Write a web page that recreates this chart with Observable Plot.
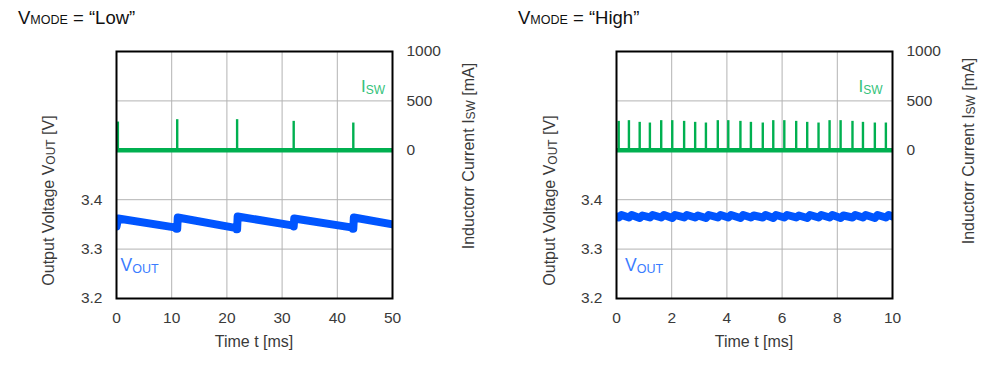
<!DOCTYPE html>
<html>
<head>
<meta charset="utf-8">
<script src="https://cdn.jsdelivr.net/npm/d3@7"></script>
<script src="https://cdn.jsdelivr.net/npm/@observablehq/plot@0.6"></script>
<style>
  html, body { margin: 0; padding: 0; background: #fff; }
  #wrap { position: relative; width: 1000px; height: 366px; overflow: hidden; background: #fff; }
  #wrap svg.panel { position: absolute; top: 0; }
</style>
</head>
<body>
<div id="wrap"></div>
<script>
// ---------- data ----------
// Panel titles
const panelTitles = ["“Low”", "“High”"];

// x ticks (ms)
const lowTimeTicks = [0, 10, 20, 30, 40, 50];
const highTimeTicks = [0, 2, 4, 6, 8, 10];

// left axis ticks (V) and right axis ticks (mA)
const voutTicks = [3.2, 3.3, 3.4];
const iswTicks = [0, 500, 1000];

// VMODE = Low : inductor current spikes (ms, mA)
const lowSpikeT = [0.25, 11.0, 21.85, 32.1, 42.9];
const lowSpikeI = [286, 310, 310, 293, 276];
const lowIswBase = [0];

// VMODE = Low : output voltage (ms, V)
const lowVoutT = [0, 0.3, 10.5, 10.8, 11.0, 11.1, 21.5, 21.7, 21.85, 21.95, 31.8, 32.0, 32.1, 32.2, 42.5, 42.75, 42.9, 43.0, 50];
const lowVoutV = [3.346, 3.362, 3.344, 3.341, 3.341, 3.364, 3.343, 3.340, 3.340, 3.366, 3.348, 3.346, 3.346, 3.362, 3.344, 3.341, 3.341, 3.364, 3.350];

// VMODE = High : inductor current spikes (ms, mA)
const highSpikeT = [0.08, 0.45, 0.84, 1.21, 1.62, 2.02, 2.45, 2.85, 3.24, 3.67, 4.05, 4.49, 4.87, 5.30, 5.68, 6.08, 6.51, 6.91, 7.32, 7.72, 8.12, 8.55, 8.93, 9.36, 9.76];
const highSpikeI = [293, 300, 283, 276, 300, 300, 293, 283, 276, 300, 300, 293, 283, 276, 300, 300, 293, 283, 276, 300, 300, 293, 283, 276, 276];
const highIswBase = [0];

// VMODE = High : output voltage (ms, V)
const highVoutT = [0, 0.08, 0.18, 0.45, 0.55, 0.84, 0.94, 1.21, 1.31, 1.62, 1.72, 2.02, 2.12, 2.45, 2.55, 2.85, 2.95, 3.24, 3.34, 3.67, 3.77, 4.05, 4.15, 4.49, 4.59, 4.87, 4.97, 5.30, 5.40, 5.68, 5.78, 6.08, 6.18, 6.51, 6.61, 6.91, 7.01, 7.32, 7.42, 7.72, 7.82, 8.12, 8.22, 8.55, 8.65, 8.93, 9.03, 9.36, 9.46, 9.76, 9.86, 10];
const highVoutV = [3.366, 3.364, 3.369, 3.364, 3.369, 3.363, 3.368, 3.364, 3.369, 3.364, 3.369, 3.363, 3.369, 3.364, 3.369, 3.364, 3.368, 3.363, 3.369, 3.364, 3.369, 3.364, 3.369, 3.363, 3.369, 3.364, 3.368, 3.364, 3.369, 3.363, 3.369, 3.364, 3.369, 3.364, 3.368, 3.363, 3.369, 3.364, 3.369, 3.364, 3.369, 3.363, 3.368, 3.364, 3.369, 3.364, 3.369, 3.363, 3.369, 3.364, 3.369, 3.366];

// ---------- style ----------
const GREEN = "#00b050";
const GREEN_LABEL = "#33c27a";
const BLUE = "#0055ff";
const BLUE_LABEL = "#3a7cff";
const GRID = "#b3b3b3";
const TEXT = "#3a3a3a";
const FONT = "'Liberation Sans', Arial, sans-serif";

// current (mA) mapped onto the voltage scale: 0 mA at 3.5 V, 1000 mA at 3.7 V
const toV = i => 3.5 + i / 5000;
const toI = v => Math.round((v - 3.5) * 5000);

function panel(cfg) {
  const nS = cfg.spikeT.length;
  const nV = cfg.voutT.length;
  const xmax = cfg.ticks[cfg.ticks.length - 1];
  const svg = Plot.plot({
    width: 500,
    height: 366,
    marginLeft: 116,
    marginRight: 108,
    marginTop: 51,
    marginBottom: 68,
    x: {domain: [0, xmax]},
    y: {domain: [3.2, 3.7]},
    style: {fontFamily: FONT, fontSize: "15.5px", color: TEXT, background: "white"},
    marks: [
      Plot.gridX(cfg.ticks.slice(1, -1), {stroke: GRID, strokeOpacity: 1, strokeWidth: 1}),
      Plot.gridY([3.3, 3.4, toV(0), toV(500)], {stroke: GRID, strokeOpacity: 1, strokeWidth: 1}),
      Plot.ruleY(cfg.base, {y: d => toV(d), x1: 0, x2: xmax, stroke: GREEN, strokeWidth: 4.5}),
      Plot.ruleX(d3.range(nS), {x: i => cfg.spikeT[i], y1: toV(0), y2: i => toV(cfg.spikeI[i]), stroke: GREEN, strokeWidth: 2.4}),
      Plot.line(d3.range(nV), {x: i => cfg.voutT[i], y: i => cfg.voutV[i], stroke: BLUE, strokeWidth: 8, clip: true}),
      Plot.frame({stroke: "black", strokeWidth: 2}),
      Plot.axisX({ticks: cfg.ticks, tickSize: 0, tickPadding: 13, label: null}),
      Plot.axisY({ticks: voutTicks, anchor: "left", tickSize: 0, tickPadding: 14, tickFormat: d3.format(".1f"), label: null}),
      Plot.axisY({ticks: iswTicks.map(toV), anchor: "right", tickSize: 0, tickPadding: 14, tickFormat: v => String(toI(v)), label: null})
    ]
  });
  svg.classList.add("panel");
  svg.style.left = cfg.left + "px";
  const s = d3.select(svg);
  const sx = svg.scale("x"), sy = svg.scale("y");
  const g = s.append("g").attr("font-family", FONT).attr("fill", TEXT);

  function sub(x, y, main, subText, tail, size, subSize, color, anchor, rotate, shift) {
    const d = shift === undefined ? 1.5 : shift;
    const t = g.append("text")
      .attr("text-anchor", anchor)
      .attr("font-size", size)
      .attr("fill", color)
      .attr("transform", `translate(${x},${y})` + (rotate ? " rotate(-90)" : ""));
    t.append("tspan").text(main);
    t.append("tspan").attr("font-size", subSize).attr("dy", d).text(subText);
    if (tail) t.append("tspan").attr("dy", -d).text(tail);
    return t;
  }
  // panel title
  sub(18, 24, "V", "MODE", " = " + cfg.title, 18.5, 12.5, "#111", "start", false, 0);
  // axis titles
  g.append("text").attr("text-anchor", "middle").attr("font-size", 16)
    .attr("x", (sx.apply(0) + sx.apply(xmax)) / 2).attr("y", 347).text("Time t [ms]");
  sub(cfg.ylx, 200.5, "Output Voltage V", "OUT", " [V]", 16, 12, TEXT, "middle", true);
  sub(cfg.yrx, cfg.yry, "Inductorr Current I", "SW", " [mA]", 16, 12, TEXT, "middle", true);
  // series labels
  sub(sx.apply(xmax) - cfg.iswDx, 92, "I", "SW", null, 17, 12, GREEN_LABEL, "end", false);
  sub(sx.apply(0) + cfg.voutDx, 271, "V", "OUT", null, 17.5, 12.5, BLUE_LABEL, "start", false);
  return svg;
}

const wrap = document.getElementById("wrap");
wrap.appendChild(panel({
  left: 0, title: panelTitles[0], ticks: lowTimeTicks,
  spikeT: lowSpikeT, spikeI: lowSpikeI, base: lowIswBase,
  voutT: lowVoutT, voutV: lowVoutV,
  ylx: 53.5, yrx: 473.5, yry: 156, iswDx: 7, voutDx: 4.5
}));
wrap.appendChild(panel({
  left: 500, title: panelTitles[1], ticks: highTimeTicks,
  spikeT: highSpikeT, spikeI: highSpikeI, base: highIswBase,
  voutT: highVoutT, voutV: highVoutV,
  ylx: 55, yrx: 473.5, yry: 151, iswDx: 9.5, voutDx: 9
}));
</script>
</body>
</html>
